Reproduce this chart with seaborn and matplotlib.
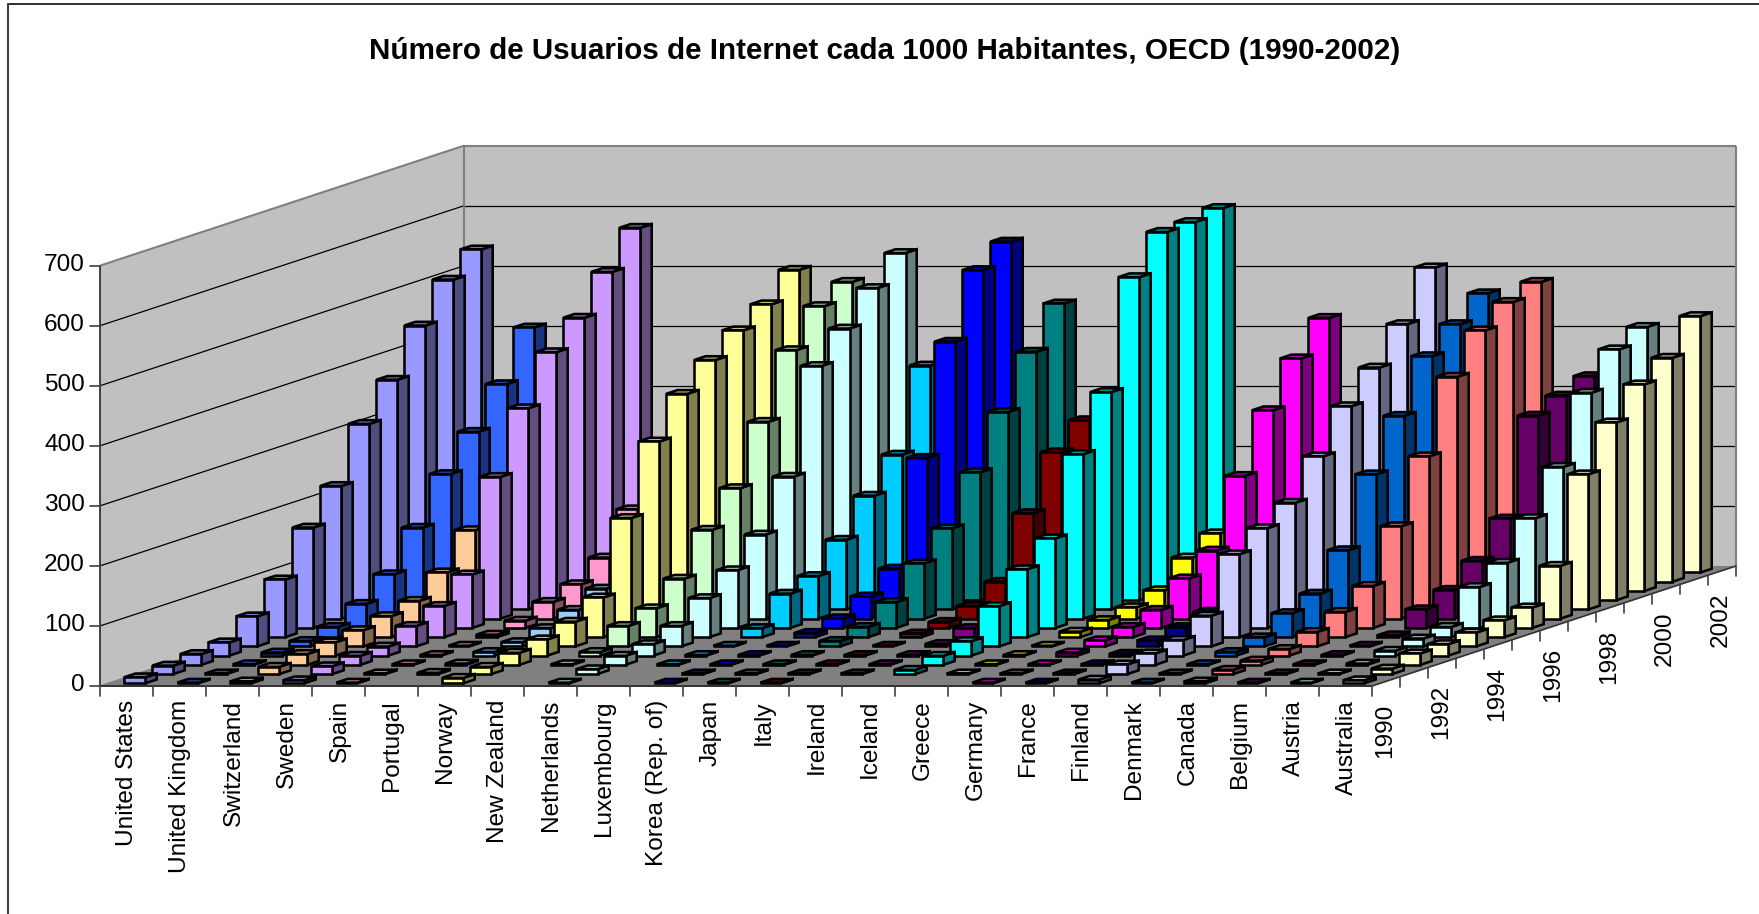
import numpy as np
import seaborn as sns
import matplotlib.pyplot as plt
from matplotlib.colors import to_rgb

nan = np.nan

years = list(range(1990, 2003))
countries = ['United States', 'United Kingdom', 'Switzerland', 'Sweden', 'Spain', 'Portugal',
             'Norway', 'New Zealand', 'Netherlands', 'Luxembourg', 'Korea (Rep. of)', 'Japan',
             'Italy', 'Ireland', 'Iceland', 'Greece', 'Germany', 'France', 'Finland', 'Denmark',
             'Canada', 'Belgium', 'Austria', 'Australia']
level_ticks = [0, 100, 200, 300, 400, 500, 600, 700]

# values, 1990 -> 2002 (nan = no bar)
united_states = [10, 14, 18, 22, 50, 96, 167, 221, 309, 367, 442, 503, 538]
united_kingdom = [1, 1, 1, 5, 9, 17, 40, 74, 136, 210, 265, 329, 408]
switzerland = [3, 12, 18, 22, 27, 35, 45, 77, 132, 190, 250, 300, 390]
sweden = [5, 13, 15, 15, 34, 52, 89, 236, 335, 413, 455, 516, 574]
spain = [1, 1, 1, 1, 1, 4, 12, 28, 42, 71, 136, 150, 156]
portugal = [nan, 2, 2, 6, 7, 15, 30, 50, 60, 100, 150, 180, 194]
norway = [9, 12, 20, 27, 41, 66, 183, 295, 359, 400, 434, 462, 504]
new_zealand = [nan, nan, 1, 6, 34, 48, 82, 148, 202, 297, 401, 459, 484]
netherlands = [1, 8, 15, 19, 34, 65, 96, 140, 221, 390, 437, 489, 532]
luxembourg = [nan, nan, 1, 1, 1, 15, 57, 71, 116, 174, 227, 360, 370]
korea = [1, 1, 1, 1, 1, 7, 16, 37, 68, 237, 415, 519, 551]
japan = [1, 1, 1, 1, 9, 17, 43, 92, 135, 213, 298, 383, 448]
italy = [1, 1, 1, 1, 1, 6, 10, 21, 46, 145, 231, 269, 290]
ireland = [nan, 1, 1, 1, 4, 15, 30, 70, 100, 200, 280, 350, 400]
iceland = [nan, 7, 15, 24, 67, 113, 149, 274, 362, 538, 598, 599, 607]
greece = [nan, 1, 1, 1, 1, 9, 13, 19, 32, 71, 96, 130, 170]
germany = [1, 1, 1, 5, 10, 17, 30, 67, 98, 207, 301, 372, 424]
france = [1, 1, 1, 3, 10, 17, 27, 50, 90, 140, 190, 230, 270]
finland = [6, 16, 19, 26, 51, 138, 166, 193, 255, 323, 372, 429, 508]
denmark = [1, 1, 1, 6, 15, 40, 57, 114, 225, 307, 391, 429, 465]
canada = [3, 7, 7, 11, 24, 42, 70, 154, 255, 372, 434, 466, 484]
belgium = [1, 1, 1, 1, 1, 3, 31, 48, 81, 136, 292, 310, 327]
austria = [1, 1, 2, 8, 13, 17, 68, 93, 152, 222, 330, 387, 409]
australia = [5, 9, 19, 19, 23, 28, 34, 88, 225, 296, 344, 373, 427]

series = [united_states, united_kingdom, switzerland, sweden, spain, portugal, norway,
          new_zealand, netherlands, luxembourg, korea, japan, italy, ireland, iceland, greece,
          germany, france, finland, denmark, canada, belgium, austria, australia]

colors = ['#9999FF', '#3366FF', '#FFCC99', '#CC99FF', '#FF99CC', '#99CCFF', '#FFFF99', '#CCFFCC',
          '#CCFFFF', '#00CCFF', '#0000FF', '#008080', '#800000', '#800080', '#00FFFF', '#FFFF00',
          '#FF00FF', '#000080', '#CCCCFF', '#0066CC', '#FF8080', '#660066', '#CCFFFF', '#FFFFCC']

sns.set_theme(style='white')
plt.rcParams['font.family'] = ['Liberation Sans', 'DejaVu Sans']
palette = sns.color_palette(colors)

# oblique projection of the Excel 3D chart (pixels)
X0, Y0 = 100.0, 686.0
CELL_X = 1272.0 / len(countries)
DEPTH_X, DEPTH_Y = 28.0, 9.23
PER_UNIT = 0.6005
BAR = 0.4
GAP = 0.3
EDGE = 1.85
LABEL_SIZE = 17.6


def project(c, y, v=0.0):
    return X0 + CELL_X * c + DEPTH_X * y, Y0 - DEPTH_Y * y - PER_UNIT * v


def face(ax, pts, color, z, edge='none', lw=0):
    xs, ys = zip(*[project(*p) for p in pts])
    ax.fill(xs, ys, facecolor=color, edgecolor=edge, linewidth=lw, zorder=z, joinstyle='miter')


def seg(ax, a, b, color='black', lw=0.9, z=2):
    (x1, y1), (x2, y2) = project(*a), project(*b)
    ax.plot([x1, x2], [y1, y2], color=color, lw=lw, zorder=z, solid_capstyle='butt')


fig = plt.figure(figsize=(17.59, 9.14), dpi=100)
ax = fig.add_axes([0, 0, 1, 1])
ax.set_xlim(0, 1759)
ax.set_ylim(914, 0)
ax.axis('off')

n_c, n_y, top = len(countries), len(years), level_ticks[-1]

# walls and floor
face(ax, [(0, 0), (0, n_y), (0, n_y, top), (0, 0, top)], '#C0C0C0', 1)
face(ax, [(0, n_y), (n_c, n_y), (n_c, n_y, top), (0, n_y, top)], '#C0C0C0', 1)
face(ax, [(0, 0), (n_c, 0), (n_c, n_y), (0, n_y)], '#808080', 1)
for lev in level_ticks[1:-1]:
    seg(ax, (0, 0, lev), (0, n_y, lev))
    seg(ax, (0, n_y, lev), (n_c, n_y, lev))
seg(ax, (0, 0, top), (0, n_y, top), '#808080', 1.5)
seg(ax, (0, n_y, top), (n_c, n_y, top), '#808080', 1.5)
seg(ax, (0, n_y), (0, n_y, top), '#808080', 1.5)
seg(ax, (n_c, n_y), (n_c, n_y, top), '#808080', 1.5)
seg(ax, (0, 0), (0, n_y), '#808080', 1.0)

# axes lines and ticks
seg(ax, (0, 0), (0, 0, top), '#404040', 1.4, 3)
seg(ax, (0, 0), (n_c, 0), '#303030', 1.4, 3)
seg(ax, (n_c, 0), (n_c, n_y), '#303030', 1.2, 3)
for lev in level_ticks:
    x, y = project(0, 0, lev)
    ax.plot([x - 10, x], [y, y], color='#404040', lw=1.2, zorder=3)
    ax.text(x - 15, y - 1, str(lev), ha='right', va='center', fontsize=LABEL_SIZE, color='black')
for c in range(n_c + 1):
    x, y = project(c, 0)
    ax.plot([x, x], [y, y + 10], color='#404040', lw=1.2, zorder=3)
for j in range(1, n_y + 1):
    x, y = project(n_c, j)
    ax.plot([x, x], [y, y + 10], color='#404040', lw=1.2, zorder=3)

for c, name in enumerate(countries):
    x, y = project(c + 0.5, 0)
    ax.text(x + 1, y + 14, name, rotation=90, ha='center', va='top', fontsize=LABEL_SIZE, color='black')
for j, yr in enumerate(years):
    if yr % 2 == 0:
        x, y = project(n_c, j + 0.5)
        ax.text(x - 1, y + 22, str(yr), rotation=90, ha='center', va='top', fontsize=LABEL_SIZE, color='black')

# bars: left to right, back to front
z = 10
for c, (vals, col) in enumerate(zip(series, palette)):
    rgb = np.array(to_rgb(col))
    for j in range(n_y - 1, -1, -1):
        v = vals[j]
        if np.isnan(v):
            continue
        l, r, f, b = c + GAP, c + GAP + BAR, j + GAP, j + GAP + BAR
        face(ax, [(r, f), (r, b), (r, b, v), (r, f, v)], rgb * 0.5, z, 'black', EDGE)
        face(ax, [(l, f, v), (r, f, v), (r, b, v), (l, b, v)], rgb * 0.75, z + 1, 'black', EDGE)
        face(ax, [(l, f), (r, f), (r, f, v), (l, f, v)], rgb, z + 2, 'black', EDGE)
        z += 3

ax.text(884.5, 59, 'Número de Usuarios de Internet cada 1000 Habitantes, OECD (1990-2002)',
        ha='center', va='baseline', fontsize=21.3, fontweight='bold', color='black')

# chart frame, only top and left show in the crop
ax.plot([8, 1759], [3.5, 3.5], color='#202020', lw=1.3, zorder=2)
ax.plot([8, 8], [3.5, 914], color='#404040', lw=1.5, zorder=2)

fig.savefig('out.png', dpi=100, facecolor='white')
